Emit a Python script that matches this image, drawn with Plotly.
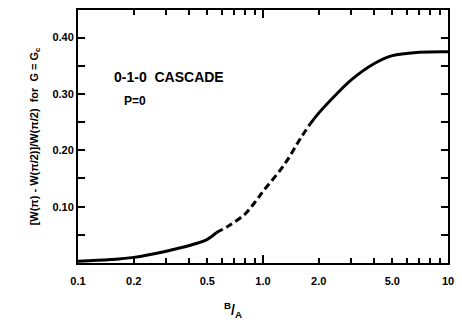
import plotly.graph_objects as go

# Data (B/A vs ratio)
x_low = [0.1, 0.15, 0.2, 0.3, 0.4, 0.5, 0.56]
y_low = [0.003, 0.006, 0.010, 0.021, 0.031, 0.042, 0.054]
x_mid = [0.56, 0.66, 0.8, 0.9, 1.0, 1.3, 1.6, 1.8]
y_mid = [0.054, 0.067, 0.087, 0.107, 0.127, 0.174, 0.222, 0.247]
x_high = [1.8, 2.0, 2.5, 3.0, 4.0, 5.0, 7.0, 10.0]
y_high = [0.247, 0.266, 0.300, 0.325, 0.354, 0.368, 0.374, 0.375]

x_tickvals = [0.1, 0.2, 0.3, 0.4, 0.5, 0.6, 0.7, 0.8, 0.9, 1, 2, 3, 4, 5, 6, 7, 8, 9, 10]
x_labelvals = [0.1, 0.2, 0.5, 1, 2, 5, 10]
x_labeltext = ["0.1", "0.2", "0.5", "1.0", "2.0", "5.0", "10"]
x_decades = [0.1, 1, 10]
y_tickvals = [0.05, 0.10, 0.15, 0.20, 0.25, 0.30, 0.35, 0.40]
y_ticktext = ["", "0.10", "", "0.20", "", "0.30", "", "0.40"]

FONT = "Liberation Sans"

fig = go.Figure()
fig.add_trace(go.Scatter(x=x_low, y=y_low, mode="lines", line_shape="spline",
                         line=dict(color="black", width=3), showlegend=False))
fig.add_trace(go.Scatter(x=x_mid, y=y_mid, mode="lines", line_shape="spline",
                         line=dict(color="black", width=3, dash="7px,4px"), showlegend=False))
fig.add_trace(go.Scatter(x=x_high, y=y_high, mode="lines", line_shape="spline",
                         line=dict(color="black", width=3), showlegend=False))
for ax in ("x2", "x3"):
    fig.add_trace(go.Scatter(x=[x_decades[0], x_decades[-1]], y=[0, 0], xaxis=ax, mode="lines",
                             line=dict(width=0), hoverinfo="skip", showlegend=False))

fig.update_layout(
    width=462, height=325,
    margin=dict(l=78, r=9, t=8, b=62),
    paper_bgcolor="white", plot_bgcolor="white",
    font=dict(family=FONT, size=11, color="black"),
    xaxis=dict(
        type="log", range=[-1, 1],
        tickvals=x_tickvals, showticklabels=False,
        ticks="inside", ticklen=5, tickwidth=1.5, tickcolor="black",
        showline=True, linecolor="black", linewidth=2, mirror="ticks",
        showgrid=False, zeroline=False,
    ),
    xaxis2=dict(
        type="log", range=[-1, 1], overlaying="x", side="bottom",
        tickvals=x_labelvals, ticktext=x_labeltext, ticks="",
        showgrid=False, zeroline=False, showline=False,
        tickfont=dict(family=FONT, size=11, color="black", weight="bold"),
        ticklabelstandoff=10,
    ),
    xaxis3=dict(
        type="log", range=[-1, 1], overlaying="x", side="bottom",
        tickvals=x_decades, ticks="inside", ticklen=8, tickwidth=1.5, tickcolor="black",
        showticklabels=False, showgrid=False, zeroline=False, showline=False,
        mirror="ticks",
    ),
    yaxis=dict(
        range=[0, 0.449],
        tickvals=y_tickvals, ticktext=y_ticktext,
        ticks="inside", ticklen=7, tickwidth=1.5, tickcolor="black",
        showline=True, linecolor="black", linewidth=2, mirror="ticks",
        showgrid=False, zeroline=False,
        tickfont=dict(family=FONT, size=11, color="black", weight="bold"),
        title=dict(text="[W(π) - W(π/2)]/W(π/2)  for  G = G<sub>c</sub>",
                   font=dict(family=FONT, size=11, color="black", weight="bold"),
                   standoff=12),
    ),
    annotations=[
        dict(text="0-1-0  CASCADE", xref="paper", yref="paper", x=0.093, y=0.737,
             xanchor="left", yanchor="middle", showarrow=False,
             font=dict(family=FONT, size=14, color="black", weight="bold")),
        dict(text="P=0", xref="paper", yref="paper", x=0.12, y=0.64,
             xanchor="left", yanchor="middle", showarrow=False,
             font=dict(family=FONT, size=12, color="black", weight="bold")),
        dict(text="<sup>B</sup>/<sub>A</sub>", xref="paper", yref="paper", x=0.42, y=-0.14,
             xanchor="center", yanchor="top", showarrow=False,
             font=dict(family=FONT, size=14, color="black", weight="bold")),
    ],
)

fig.write_html("out.html", config={"displayModeBar": False},
               post_script="document.body.style.margin='0';")
